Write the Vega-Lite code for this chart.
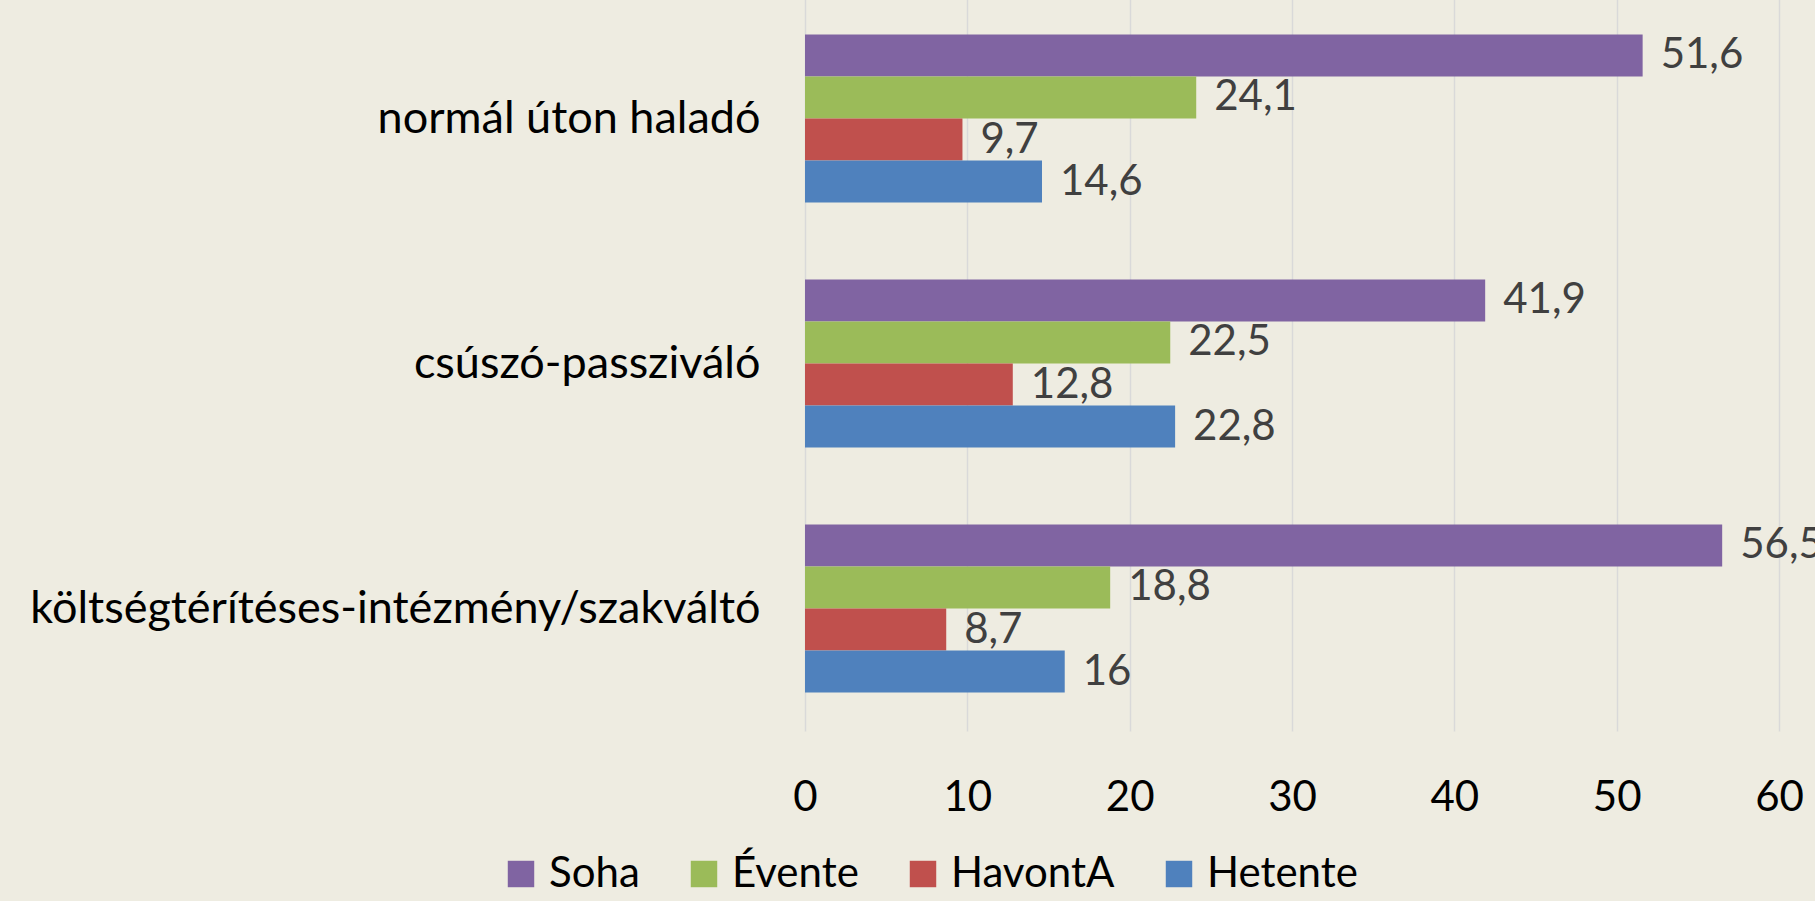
{
  "$schema": "https://vega.github.io/schema/vega-lite/v6.json",
  "autosize": {"type": "none"},
  "width": 974,
  "height": 735,
  "padding": {"left": 805, "top": -4, "right": 36, "bottom": 170},
  "background": "#EEECE1",
  "config": {
    "view": {"stroke": null},
    "font": "Lato"
  },
  "data": {
    "values": [
      {"kategoria": "normál úton haladó", "sorozat": "Soha", "ertek": 51.6, "cimke": "51,6"},
      {"kategoria": "normál úton haladó", "sorozat": "Évente", "ertek": 24.1, "cimke": "24,1"},
      {"kategoria": "normál úton haladó", "sorozat": "HavontA", "ertek": 9.7, "cimke": "9,7"},
      {"kategoria": "normál úton haladó", "sorozat": "Hetente", "ertek": 14.6, "cimke": "14,6"},
      {"kategoria": "csúszó-passziváló", "sorozat": "Soha", "ertek": 41.9, "cimke": "41,9"},
      {"kategoria": "csúszó-passziváló", "sorozat": "Évente", "ertek": 22.5, "cimke": "22,5"},
      {"kategoria": "csúszó-passziváló", "sorozat": "HavontA", "ertek": 12.8, "cimke": "12,8"},
      {"kategoria": "csúszó-passziváló", "sorozat": "Hetente", "ertek": 22.8, "cimke": "22,8"},
      {"kategoria": "költségtérítéses-intézmény/szakváltó", "sorozat": "Soha", "ertek": 56.5, "cimke": "56,5"},
      {"kategoria": "költségtérítéses-intézmény/szakváltó", "sorozat": "Évente", "ertek": 18.8, "cimke": "18,8"},
      {"kategoria": "költségtérítéses-intézmény/szakváltó", "sorozat": "HavontA", "ertek": 8.7, "cimke": "8,7"},
      {"kategoria": "költségtérítéses-intézmény/szakváltó", "sorozat": "Hetente", "ertek": 16, "cimke": "16"}
    ]
  },
  "encoding": {
    "y": {
      "field": "kategoria",
      "type": "nominal",
      "sort": ["normál úton haladó", "csúszó-passziváló", "költségtérítéses-intézmény/szakváltó"],
      "scale": {"paddingInner": 0.314, "paddingOuter": 0.157},
      "axis": {
        "title": null,
        "domain": false,
        "ticks": false,
        "labelPadding": 45,
        "labelFont": "Lato",
        "labelFontSize": 45,
        "labelColor": "#000000",
        "labelLimit": 900
      }
    },
    "yOffset": {
      "field": "sorozat",
      "type": "nominal",
      "sort": ["Soha", "Évente", "HavontA", "Hetente"],
      "scale": {"paddingInner": 0, "paddingOuter": 0}
    },
    "x": {
      "field": "ertek",
      "type": "quantitative",
      "stack": null,
      "scale": {"domain": [0, 60], "nice": false},
      "axis": {
        "title": null,
        "values": [0, 10, 20, 30, 40, 50, 60],
        "domain": false,
        "ticks": false,
        "grid": true,
        "gridColor": "#D9D9D9",
        "gridWidth": 1.5,
        "labelPadding": 46,
        "labelFont": "Lato",
        "labelFontSize": 42,
        "labelColor": "#000000",
        "labelFlush": false
      }
    }
  },
  "layer": [
    {
      "mark": {"type": "bar"},
      "encoding": {
        "color": {
          "field": "sorozat",
          "type": "nominal",
          "sort": ["Soha", "Évente", "HavontA", "Hetente"],
          "scale": {
            "domain": ["Soha", "Évente", "HavontA", "Hetente"],
            "range": ["#8064A2", "#9BBB59", "#C0504D", "#4F81BD"]
          },
          "legend": {
            "title": null,
            "orient": "none",
            "direction": "horizontal",
            "legendX": -305,
            "legendY": 857,
            "symbolType": "square",
            "symbolSize": 700,
            "symbolStrokeWidth": 0,
            "labelFont": "Lato",
            "labelFontSize": 42,
            "labelColor": "#000000",
            "labelOffset": 7,
            "columnPadding": 43,
            "labelLimit": 400
          }
        }
      }
    },
    {
      "mark": {
        "type": "text",
        "align": "left",
        "baseline": "middle",
        "dx": 18,
        "font": "Lato",
        "fontSize": 42,
        "color": "#404040"
      },
      "encoding": {
        "text": {"field": "cimke", "type": "nominal"}
      }
    }
  ]
}
